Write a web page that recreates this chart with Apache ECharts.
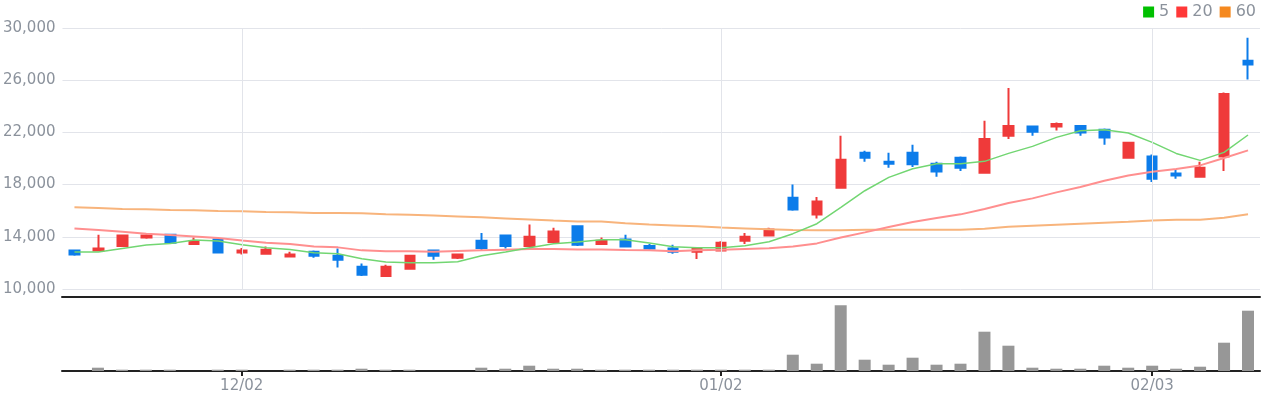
<!DOCTYPE html>
<html>
<head>
<meta charset="utf-8">
<script src="https://cdn.jsdelivr.net/npm/echarts@6/dist/echarts.min.js"></script>
<style>
html,body{margin:0;padding:0;background:#fff;}
#chart{width:1261px;height:400px;}
</style>
</head>
<body>
<div id="chart"></div>
<script>
const dates = ['11/21','11/22','11/25','11/26','11/27','11/28','11/29',
  '12/02','12/03','12/04','12/05','12/06','12/09','12/10','12/11','12/12','12/13',
  '12/16','12/17','12/18','12/19','12/20','12/23','12/24','12/26','12/27','12/30',
  '01/02','01/03','01/06','01/07','01/08','01/09','01/10','01/13','01/14','01/15',
  '01/16','01/17','01/20','01/21','01/22','01/23','01/24','01/31',
  '02/03','02/04','02/05','02/06','02/07'];
const tickLabels = ['12/02','01/02','02/03'];
const opens  = [12950,12950,13300,13950,14150,13450,13800,12800,12700,12500,12850,12550,11700,11000,11550,12950,12400,13700,14100,13300,13600,14800,13450,13800,13300,13100,12850,12950,13700,14100,17000,15700,17750,20450,19750,20450,19600,20050,18900,21750,22450,22450,22500,22200,20050,20150,18850,18600,20150,27500];
const closes = [12650,13100,14100,14100,13550,13650,12800,12950,13000,12650,12550,12250,11100,11700,12550,12550,12650,13150,13300,14000,14400,13400,13700,13250,13100,12850,13100,13550,14000,14550,16100,16700,19900,20050,19600,19550,19000,19300,21500,22500,22050,22650,22000,21600,21200,18450,18700,19300,24950,27200];
const lows   = [12550,12950,13300,13850,13450,13400,12800,12650,12650,12500,12400,11650,11000,11000,11550,12250,12300,12950,13100,13300,13600,13300,13400,13250,13000,12700,12300,12950,13450,14100,16000,15400,17750,19750,19300,19350,18600,19050,18900,21500,21750,22150,21750,21050,20000,18200,18450,18600,19050,26050];
const highs  = [12950,14150,14100,14200,14150,13950,13800,13150,13250,12850,12950,13100,11950,11850,12550,12950,12650,14300,14100,14950,14700,14800,13950,14150,13450,13400,13100,13650,14300,14700,18000,17050,21750,20600,20450,21050,19750,20150,22900,25400,22450,22750,22500,22300,21200,20300,19200,19750,25050,29250];
const volumes = [0,132000,52000,52000,52000,0,52000,52000,0,52000,52000,52000,92000,52000,52000,0,0,132000,92000,212000,92000,92000,52000,52000,52000,52000,52000,52000,52000,52000,652000,292000,2628000,452000,252000,532000,252000,292000,1572000,1012000,132000,92000,92000,212000,132000,212000,92000,172000,1132000,2412000];
const ma5  = [12835,12835,13110,13370,13495,13755,13680,13395,13165,13035,12780,12705,12320,12070,12015,12015,12090,12550,12835,13165,13470,13600,13780,13780,13525,13240,13165,13165,13320,13625,14240,15005,16250,17530,18555,19220,19600,19600,19780,20395,20930,21620,22130,22210,21950,21235,20390,19855,20470,21800];
const ma20 = [14645,14520,14390,14240,14135,14030,13910,13725,13550,13450,13265,13190,12960,12885,12885,12860,12910,12960,13010,13065,13065,13035,13035,12990,12960,12885,12960,13010,13065,13115,13265,13495,13950,14340,14750,15135,15440,15720,16130,16590,16945,17405,17815,18300,18705,18990,19195,19470,20040,20620];
const ma60 = [16255,16205,16130,16110,16055,16030,15975,15955,15900,15875,15825,15825,15800,15720,15695,15640,15565,15490,15410,15335,15255,15180,15180,15030,14950,14875,14800,14720,14645,14570,14520,14495,14495,14545,14545,14545,14545,14545,14620,14775,14850,14925,15005,15080,15155,15255,15310,15310,15465,15720];

const candleData = opens.map((o, i) => [o, closes[i], lows[i], highs[i]]);
const FONT = 'DejaVu Sans';
const GRAY = '#8b929c';
const isTick = (i, v) => tickLabels.indexOf(v) >= 0;

const chart = echarts.init(document.getElementById('chart'));
chart.setOption({
  animation: false,
  backgroundColor: '#fff',
  textStyle: {fontFamily: FONT},
  legend: {
    data: ['5', '20', '60'],
    right: 5, top: 4, padding: [0, 0, 0, 0],
    icon: 'rect', itemWidth: 11, itemHeight: 11, itemGap: 7,
    textStyle: {color: GRAY, fontSize: 16, fontFamily: FONT}
  },
  grid: [
    {left: 62, right: 1, top: 28, height: 261},
    {left: 62, right: 1, top: 297, height: 74}
  ],
  xAxis: [
    {type: 'category', gridIndex: 0, data: dates, show: false},
    {type: 'category', gridIndex: 1, data: dates, position: 'bottom',
      axisLine: {lineStyle: {color: '#222', width: 2}},
      axisTick: {show: true, interval: isTick, alignWithLabel: true, length: 5, lineStyle: {color: '#222', width: 2}},
      axisLabel: {interval: isTick, color: GRAY, fontSize: 15, fontFamily: FONT, margin: 8},
      splitLine: {show: false}},
    {type: 'category', gridIndex: 1, data: dates, position: 'top',
      axisLine: {lineStyle: {color: '#222', width: 2}},
      axisTick: {show: false}, axisLabel: {show: false}, splitLine: {show: false}}
  ],
  yAxis: [
    {type: 'value', gridIndex: 0, min: 10000, max: 30000, interval: 4000,
      axisLine: {show: false}, axisTick: {show: false},
      axisLabel: {color: GRAY, fontSize: 15, fontFamily: FONT, margin: 7},
      splitLine: {lineStyle: {color: '#e2e4ea', width: 1}}},
    {type: 'value', gridIndex: 1, min: 0, max: 2960000, show: false, splitLine: {show: false}}
  ],
  series: [
    {name: '60', type: 'line', xAxisIndex: 0, yAxisIndex: 0, data: ma60,
      showSymbol: false, symbol: 'none', smooth: false,
      itemStyle: {color: '#f5891f'}, lineStyle: {color: '#f8b47c', width: 2},
      markLine: {silent: true, symbol: 'none', label: {show: false},
        lineStyle: {color: '#e2e4ea', type: 'solid', width: 1},
        data: tickLabels.map(d => ({xAxis: d}))}},
    {name: '20', type: 'line', xAxisIndex: 0, yAxisIndex: 0, data: ma20,
      showSymbol: false, symbol: 'none', smooth: false,
      itemStyle: {color: '#ff3838'}, lineStyle: {color: '#ff8f8f', width: 2}},
    {name: '5', type: 'line', xAxisIndex: 0, yAxisIndex: 0, data: ma5,
      showSymbol: false, symbol: 'none', smooth: false,
      itemStyle: {color: '#00c000'}, lineStyle: {color: '#72d672', width: 1.5}},
    {name: 'price', type: 'candlestick', xAxisIndex: 0, yAxisIndex: 0, data: candleData,
      barWidth: 10,
      itemStyle: {color: '#ef3a3a', color0: '#0c7cea', borderColor: '#ef3a3a', borderColor0: '#0c7cea', borderWidth: 2}},
    {name: 'volume', type: 'bar', xAxisIndex: 1, yAxisIndex: 1, data: volumes,
      barWidth: 12, itemStyle: {color: '#979797'}}
  ]
});
</script>
</body>
</html>
